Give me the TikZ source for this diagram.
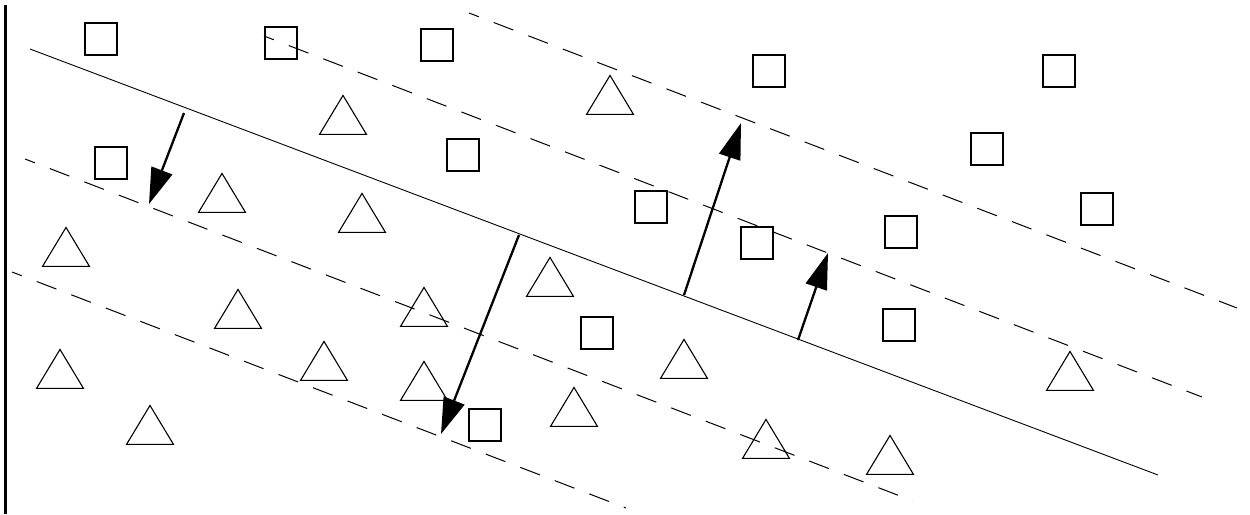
\documentclass[tikz,border=0pt]{standalone}
\usetikzlibrary{arrows.meta,shapes.geometric}
\begin{document}
\begin{tikzpicture}[x=1pt,y=-1pt,
  sq/.style={draw, rectangle, minimum size=32pt, inner sep=0pt, line width=2pt},
  tri/.style={draw, isosceles triangle, isosceles triangle stretches, shape border rotate=90,
    minimum width=47pt, minimum height=39pt, inner sep=0pt, anchor=apex, line width=1.1pt},
  sepline/.style={line width=0.9pt},
  marginline/.style={line width=1pt, dash pattern=on 21pt off 16pt, dash phase=10.5pt},
  normalvec/.style={line width=2.3pt, -{Triangle[length=36pt,width=22pt]}},
  axisline/.style={line width=2.2pt}]
\useasboundingbox (0,0) rectangle (1250,514);

% axis
\coordinate (vt) at (5.5,5);
\coordinate (vb) at (5.5,514);
\draw[axisline] (vt) -- (vb);

% separating line and margins
\coordinate (s1) at (30,49);   \coordinate (s2) at (1158,475);
\coordinate (ma1) at (469,13); \coordinate (ma2) at (1237,308);
\coordinate (mb1) at (264,36); \coordinate (mb2) at (1202,397);
\coordinate (mc1) at (25,159); \coordinate (mc2) at (913,501);
\coordinate (md1) at (12,272); \coordinate (md2) at (626,508);
\draw[sepline] (s1) -- (s2);
\draw[marginline] (ma1) -- (ma2);
\draw[marginline] (mb1) -- (mb2);
\draw[marginline] (mc1) -- (mc2);
\draw[marginline] (md1) -- (md2);

% squares
\node[sq] (q1) at (101,39) {};
\node[sq] (q2) at (281,43) {};
\node[sq] (q3) at (437,45) {};
\node[sq] (q4) at (769,71) {};
\node[sq] (q5) at (1059,71) {};
\node[sq] (q6) at (111,163) {};
\node[sq] (q7) at (463,155) {};
\node[sq] (q8) at (987,149) {};
\node[sq] (q9) at (651,207) {};
\node[sq] (q10) at (1097,209) {};
\node[sq] (q11) at (757,243) {};
\node[sq] (q12) at (901,232) {};
\node[sq] (q13) at (899,325) {};
\node[sq] (q14) at (597,333) {};
\node[sq] (q15) at (485,425) {};

% triangles (placed by apex)
\node[tri] (t1) at (343,94) {};
\node[tri] (t2) at (610,74) {};
\node[tri] (t3) at (222,172) {};
\node[tri] (t4) at (362,192) {};
\node[tri] (t5) at (66,226) {};
\node[tri] (t6) at (238,288) {};
\node[tri] (t7) at (550,256) {};
\node[tri] (t8) at (424,286) {};
\node[tri] (t9) at (60,348) {};
\node[tri] (t10) at (324,340) {};
\node[tri] (t11) at (424,360) {};
\node[tri] (t12) at (684,338) {};
\node[tri] (t13) at (150,404) {};
\node[tri] (t14) at (574,386) {};
\node[tri] (t15) at (766,418) {};
\node[tri] (t16) at (890,434) {};
\node[tri] (t17) at (1070,350) {};

% normal vectors
\coordinate (a1s) at (184,113); \coordinate (a1e) at (149,204);
\coordinate (a2s) at (519,235); \coordinate (a2e) at (441,434);
\coordinate (a3s) at (684,295); \coordinate (a3e) at (741,123);
\coordinate (a4s) at (798,340); \coordinate (a4e) at (828,253);
\draw[normalvec] (a1s) -- (a1e);
\draw[normalvec] (a2s) -- (a2e);
\draw[normalvec] (a3s) -- (a3e);
\draw[normalvec] (a4s) -- (a4e);
\end{tikzpicture}
\end{document}
